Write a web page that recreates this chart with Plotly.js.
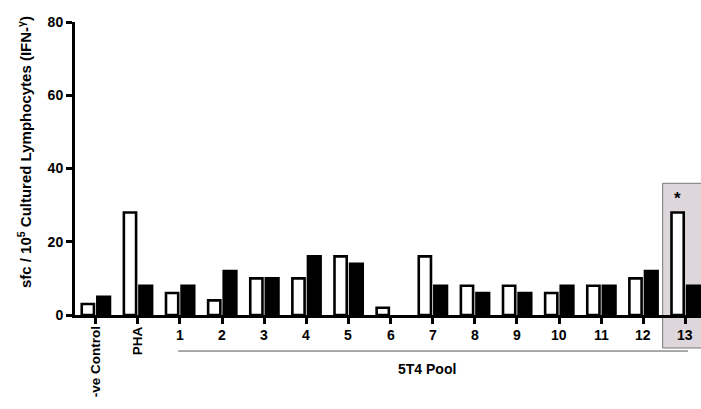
<!DOCTYPE html>
<html><head><meta charset="utf-8">
<script src="https://cdn.plot.ly/plotly-3.0.1.min.js"></script>
<style>html,body{margin:0;padding:0;background:#fff}#chart{width:701px;height:409px}</style>
</head><body><div id="chart"></div>
<script>
const categories = ["-ve Control","PHA","1","2","3","4","5","6","7","8","9","10","11","12","13"];
const whiteValues = [3,28,6,4,10,10,16,2,16,8,8,6,8,10,28];
const blackValues = [5,8,8,12,10,16,14,0,8,6,6,8,8,12,8];
const yTicks = [0,20,40,60,80];
const rotatedLabels = ["-ve Control","PHA"];
const poolLabel = "5T4 Pool";
const yTitle = "sfc / 10<sup>5</sup> Cultured Lymphocytes (IFN-<sup>γ</sup>)";

const F = "Liberation Sans, Arial, sans-serif";
const idx = categories.map((c,i)=>i);

const traces = [
  {type:'bar', x:idx, y:whiteValues, width:0.29, offset:-0.33,
   marker:{color:'#ffffff', line:{color:'#000', width:whiteValues.map(v=>v>0?2.6:0)}}, hoverinfo:'none'},
  {type:'bar', x:idx, y:blackValues, width:0.3, offset:0.04,
   marker:{color:'#000000', line:{color:'#000', width:blackValues.map(v=>v>0?2.6:0)}}, hoverinfo:'none'}
];

const annotations = [];
categories.forEach((c,i)=>{
  if (rotatedLabels.includes(c)) {
    annotations.push({x:i, y:0, xref:'x', yref:'y', text:c, showarrow:false, textangle:-90,
      xanchor:'center', yanchor:'top', yshift:-9, font:{family:F, size:13.5, color:'#000', weight:'bold'}});
  } else {
    annotations.push({x:i, y:0, xref:'x', yref:'y', text:c, showarrow:false,
      xanchor:'center', yanchor:'top', yshift:-10, font:{family:F, size:14, color:'#000', weight:'bold'}});
  }
});
annotations.push({x:7.86, y:-0.184, xref:'x', yref:'paper', text:poolLabel, showarrow:false,
  xanchor:'center', yanchor:'middle', font:{family:F, size:14, color:'#000', weight:'bold'}});
annotations.push({x:14, y:whiteValues[14], xref:'x', yref:'y', text:'*', showarrow:false,
  xanchor:'center', yanchor:'bottom', xshift:-7.5, yshift:2, font:{family:F, size:17, color:'#000', weight:'bold'}});
annotations.push({x:0, y:0.556, xref:'paper', yref:'paper', text:yTitle, showarrow:false, textangle:-90,
  xanchor:'center', yanchor:'middle', xshift:-51, font:{family:F, size:15, color:'#000', weight:'bold'}});

const shapes = [
  {type:'rect', xref:'x', yref:'paper', x0:13.46, x1:14.6, y0:-0.1126, y1:0.4495, layer:'below',
   fillcolor:'#ddd7dc', line:{color:'#777', width:1}},
  {type:'line', xref:'x', yref:'paper', x0:1.96, x1:14.06, y0:-0.123, y1:-0.123,
   line:{color:'#555', width:1}}
];

const layout = {
  width:701, height:409,
  margin:{l:75, r:0, t:22, b:94},
  paper_bgcolor:'#fff', plot_bgcolor:'rgba(0,0,0,0)',
  showlegend:false, barmode:'overlay',
  xaxis:{type:'linear', range:[-0.49,14.37], tickvals:idx, showticklabels:false,
    ticks:'outside', ticklen:6, tickwidth:3, tickcolor:'#000',
    showline:true, linewidth:3, linecolor:'#000', showgrid:false, zeroline:false, fixedrange:true},
  yaxis:{range:[0,80], tickvals:yTicks, ticks:'outside', ticklen:6, tickwidth:3, tickcolor:'#000',
    showline:true, linewidth:3, linecolor:'#000', showgrid:false, zeroline:false,
    tickfont:{family:F, size:14, color:'#000', weight:'bold'}, fixedrange:true},
  annotations, shapes
};
Plotly.newPlot('chart', traces, layout, {displayModeBar:false, staticPlot:true});
</script></body></html>
